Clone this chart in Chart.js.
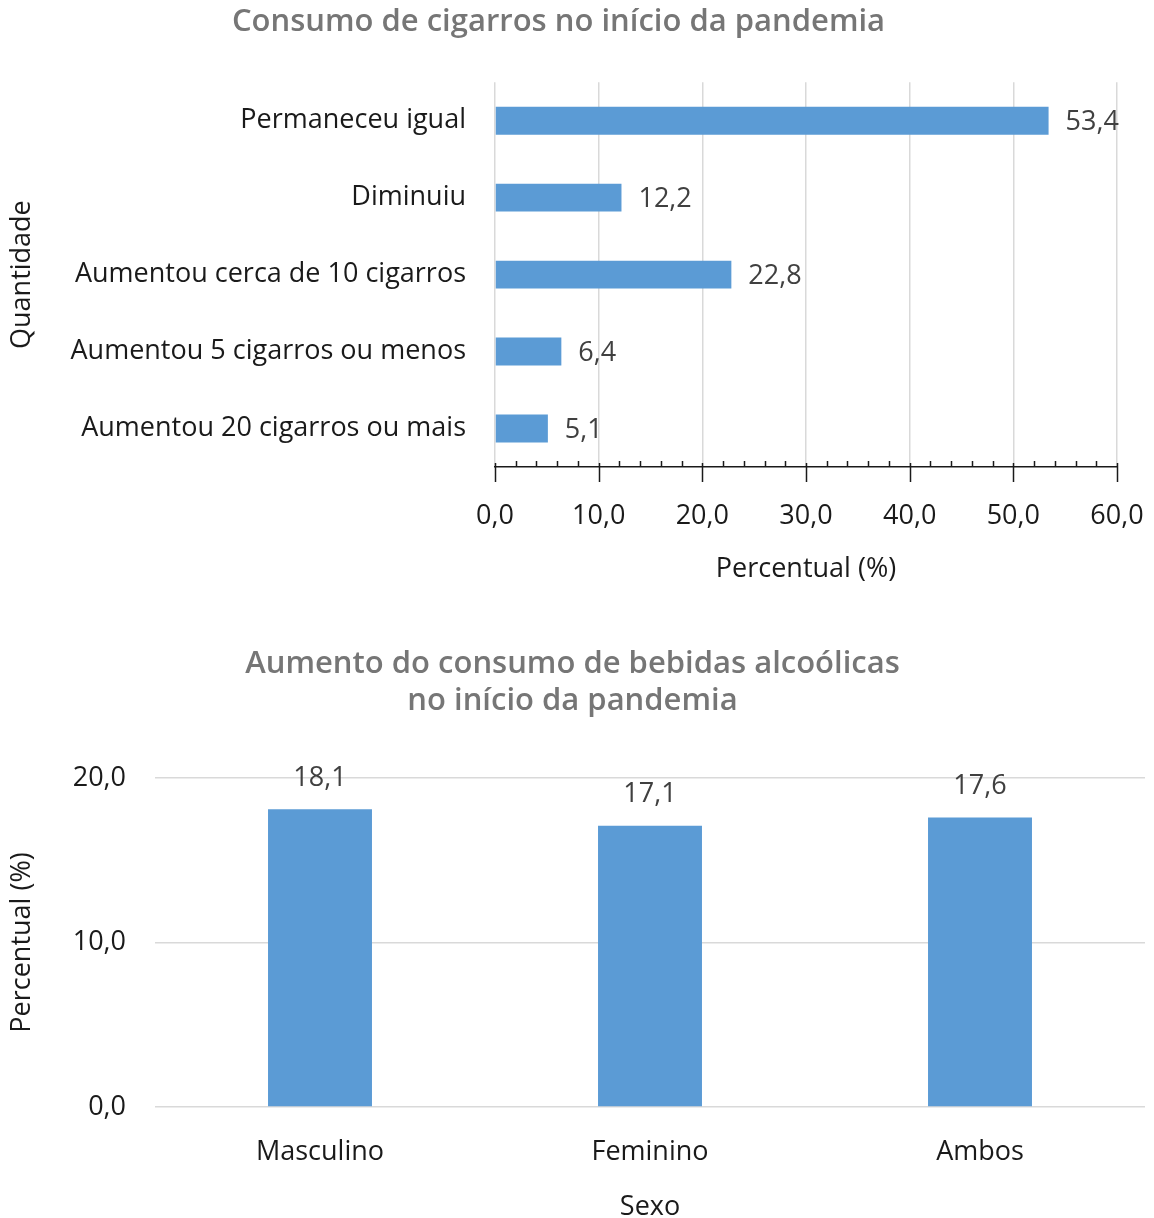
<!DOCTYPE html>
<html>
<head>
<meta charset="utf-8">
<script src="https://cdn.jsdelivr.net/npm/chart.js@4.4.1/dist/chart.umd.min.js"></script>
<style>
  body { margin: 0; background: #fff; }
  #wrap { position: relative; width: 1154px; height: 1218px; }
  canvas { position: absolute; left: 0; }
  #cigChart { top: 0; }
  #alcChart { top: 618px; }
</style>
</head>
<body>
<div id="wrap">
  <canvas id="cigChart" width="1154" height="600"></canvas>
  <canvas id="alcChart" width="1154" height="600"></canvas>
</div>
<script>
// data
const cigLabels = [
  "Permaneceu igual",
  "Diminuiu",
  "Aumentou cerca de 10 cigarros",
  "Aumentou 5 cigarros ou menos",
  "Aumentou 20 cigarros ou mais",
];
const cigValues = [53.4, 12.2, 22.8, 6.4, 5.1];

const sexLabels = ["Masculino", "Feminino", "Ambos"];
const alcValues = [18.1, 17.1, 17.6];

const FONT = "'Open Sans'";
const SIZE = 27;
const barColor = "#5b9bd5";
const gridColor = "#d9d9d9";
const textColor = "#1a1a1a";
const labelColor = "#404040";
const titleColor = "#767676";

Chart.defaults.font.family = FONT;
Chart.defaults.color = textColor;

function fmt(v) {
  return Number(v).toFixed(1).replace(".", ",");
}

// value labels next to / above bars
const valueLabels = {
  id: "valueLabels",
  afterDatasetsDraw(chart) {
    const ctx = chart.ctx;
    const meta = chart.getDatasetMeta(0);
    const values = chart.data.datasets[0].data;
    const horizontal = chart.options.indexAxis === "y";
    ctx.save();
    ctx.font = SIZE + "px " + FONT;
    ctx.fillStyle = labelColor;
    ctx.textBaseline = "middle";
    meta.data.forEach((bar, i) => {
      if (horizontal) {
        ctx.textAlign = "left";
        ctx.fillText(fmt(values[i]), bar.x + 17, bar.y + 2);
      } else {
        ctx.textAlign = "center";
        ctx.fillText(fmt(values[i]), bar.x, bar.y - 31);
      }
    });
    ctx.restore();
  },
};

// major + minor tick marks on the horizontal axis
const axisTicks = {
  id: "axisTicks",
  afterDraw(chart) {
    const scale = chart.scales.x;
    const ctx = chart.ctx;
    const y = chart.chartArea.bottom;
    ctx.save();
    ctx.strokeStyle = textColor;
    ctx.lineWidth = 1.5;
    for (let v = scale.min; v <= scale.max; v += 2) {
      const x = Math.round(scale.getPixelForValue(v)) + 0.5;
      ctx.beginPath();
      if (v % 10 === 0) {
        ctx.moveTo(x, y - 4);
        ctx.lineTo(x, y + 15);
      } else {
        ctx.moveTo(x, y - 6);
        ctx.lineTo(x, y);
      }
      ctx.stroke();
    }
    ctx.restore();
  },
};

// chart 1: cigarettes (horizontal)
const cigChart = new Chart(document.getElementById("cigChart"), {
  type: "bar",
  data: {
    labels: cigLabels,
    datasets: [
      {
        data: cigValues,
        backgroundColor: barColor,
        categoryPercentage: 1,
        barPercentage: 0.363,
      },
    ],
  },
  options: {
    indexAxis: "y",
    responsive: false,
    animation: false,
    layout: { padding: { right: 37, bottom: 3 } },
    plugins: {
      legend: { display: false },
      tooltip: { enabled: false },
      title: {
        display: true,
        text: "Consumo de cigarros no início da pandemia",
        color: titleColor,
        font: { size: 31, weight: "600", lineHeight: 1.2 },
        padding: { top: 4, bottom: 41 },
      },
    },
    scales: {
      x: {
        min: 0,
        max: 60,
        ticks: { stepSize: 10, callback: fmt, font: { size: SIZE }, color: textColor, padding: 5 },
        grid: { color: gridColor, lineWidth: 1.5, drawTicks: true, tickLength: 28, tickColor: "rgba(0,0,0,0)" },
        border: { display: true, color: textColor, width: 1.5 },
        title: {
          display: true,
          text: "Percentual (%)",
          color: textColor,
          font: { size: SIZE },
          padding: { top: 0, bottom: 11 },
        },
        afterFit(s) { s.height = 130; },
      },
      y: {
        ticks: { font: { size: SIZE }, color: textColor, padding: 29 },
        grid: { display: false, drawTicks: false },
        border: { display: false },
        title: {
          display: true,
          text: "Quantidade",
          color: textColor,
          font: { size: SIZE },
          padding: { top: 6, bottom: 0 },
        },
        afterFit(s) { s.width = 495; },
      },
    },
  },
  plugins: [valueLabels, axisTicks],
});

// chart 2: alcohol (vertical)
const alcChart = new Chart(document.getElementById("alcChart"), {
  type: "bar",
  data: {
    labels: sexLabels,
    datasets: [
      {
        data: alcValues,
        backgroundColor: barColor,
        categoryPercentage: 1,
        barPercentage: 0.315,
      },
    ],
  },
  options: {
    responsive: false,
    animation: false,
    layout: { padding: { right: 9, bottom: 0 } },
    plugins: {
      legend: { display: false },
      tooltip: { enabled: false },
      title: {
        display: true,
        text: ["Aumento do consumo de bebidas alcoólicas", "no início da pandemia"],
        color: titleColor,
        font: { size: 31, weight: "600", lineHeight: 1.194 },
        padding: { top: 28, bottom: 58 },
      },
    },
    scales: {
      x: {
        ticks: { font: { size: SIZE }, color: textColor, padding: 29 },
        grid: { display: false, drawTicks: false },
        border: { display: false },
        title: {
          display: true,
          text: "Sexo",
          color: textColor,
          font: { size: SIZE, lineHeight: 0.8 },
          padding: { top: 0, bottom: 0 },
        },
        afterFit(s) { s.height = 111; },
      },
      y: {
        min: 0,
        max: 20,
        ticks: { stepSize: 10, callback: fmt, font: { size: SIZE }, color: textColor, padding: 29 },
        grid: { color: gridColor, lineWidth: 1.5, drawTicks: false },
        border: { display: false },
        title: {
          display: true,
          text: "Percentual (%)",
          color: textColor,
          font: { size: SIZE },
          padding: { top: 6, bottom: 0 },
        },
        afterFit(s) { s.width = 155; },
      },
    },
  },
  plugins: [valueLabels],
});
</script>
</body>
</html>
